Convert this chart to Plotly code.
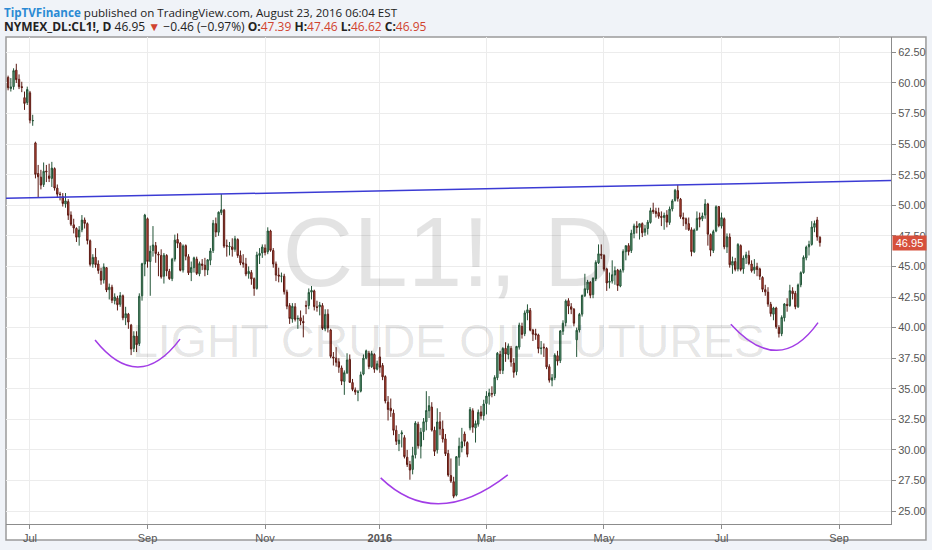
import pandas as pd
import plotly.graph_objects as go

# NYMEX trading calendar: weekdays minus exchange holidays
START = "2015-06-19"
AXIS_END = "2016-09-30"
HOLIDAYS = [
    "2015-07-03", "2015-09-07", "2015-11-26", "2015-12-25", "2016-01-01",
    "2016-01-18", "2016-02-15", "2016-03-25", "2016-05-30", "2016-07-04",
    "2016-09-05",
]

# CL1! daily bars, one line per month (Jun 2015 .. Aug 23 2016)
OPEN = [
    60.45, 59.55, 59.70, 61.05, 60.30, 59.70, 58.80, 58.40,
    59.20, 56.90, 55.10, 52.60, 52.30, 51.70, 52.80, 52.40, 52.20, 53.00, 51.40, 50.90, 50.70, 50.10, 50.30, 49.20, 48.40, 48.10, 47.40, 48.00, 48.80, 48.50,
    47.10, 45.20, 45.75, 45.20, 44.60, 43.90, 44.90, 43.10, 43.30, 42.20, 42.40, 41.90, 42.60, 40.80, 41.10, 40.20, 38.30, 39.30, 38.70, 42.60, 45.20,
    48.90, 45.40, 46.30, 46.70, 46.00, 45.90, 44.20, 45.90, 44.60, 44.00, 45.60, 47.20, 46.90, 44.70, 46.70, 45.80, 44.50, 44.90, 45.60, 44.40, 45.20,
    45.10, 44.70, 45.50, 46.30, 48.50, 47.80, 49.40, 49.60, 46.70, 46.60, 46.60, 46.40, 47.20, 45.90, 45.30, 45.20, 44.40, 44.50, 44.00, 43.20, 45.90, 46.10,
    46.50, 46.20, 47.90, 46.30, 45.20, 44.30, 44.20, 44.20, 42.90, 41.80, 40.70, 41.70, 40.70, 40.80, 40.50, 41.80, 41.80, 42.90, 43.00, 41.70,
    41.70, 41.80, 39.90, 41.10, 39.80, 37.60, 37.50, 37.20, 36.70, 35.60, 36.30, 37.40, 35.50, 34.90, 34.70, 34.80, 36.20, 37.50, 37.90, 36.80, 37.80, 36.60,
    37.60, 36.90, 36.00, 33.90, 33.40, 33.00, 31.60, 30.50, 31.30, 31.00, 29.40, 28.80, 28.40, 29.60, 32.10, 30.30, 31.50, 32.30, 33.20,
    33.50, 31.60, 30.00, 32.30, 31.70, 30.90, 29.70, 27.90, 27.40, 26.30, 29.40, 30.20, 31.30, 30.60, 31.80, 33.20, 31.80, 32.10, 33.10, 32.80,
    33.80, 34.40, 34.60, 34.60, 35.90, 37.80, 36.50, 38.30, 37.80, 38.30, 37.10, 36.40, 38.40, 40.10, 39.50, 41.20, 41.40, 39.80, 39.50, 39.40, 38.30, 38.40,
    38.30, 36.80, 35.70, 35.90, 37.70, 37.30, 39.70, 40.40, 42.20, 41.70, 41.50, 39.00, 39.80, 41.10, 42.60, 43.10, 43.70, 42.70, 44.00, 45.30, 46.00,
    45.90, 44.80, 43.70, 43.80, 44.30, 44.70, 43.40, 44.70, 46.20, 46.70, 46.30, 47.70, 48.30, 48.20, 48.50, 47.80, 48.10, 48.60, 49.60, 49.50, 49.40,
    49.10, 49.00, 49.20, 48.60, 49.70, 50.40, 51.20, 50.50, 49.00, 48.90, 48.50, 48.00, 46.20, 48.00, 49.00, 48.90, 49.20, 50.10, 47.60, 46.30, 47.90, 49.90,
    48.30, 48.90, 46.60, 47.40, 45.10, 45.40, 44.80, 46.70, 44.80, 45.70, 45.90, 45.20, 44.70, 45.00, 44.80, 44.10, 43.10, 42.90, 41.90, 41.10,
    41.60, 40.00, 39.50, 40.80, 41.90, 41.80, 43.00, 42.80, 41.70, 43.50, 44.50, 45.70, 46.60, 46.80, 48.20, 48.80, 47.39,
]
HIGH = [
    60.60, 60.40, 61.20, 61.57, 60.70, 60.10, 59.30, 59.70,
    59.35, 57.40, 55.20, 53.30, 52.90, 53.50, 53.30, 53.40, 53.55, 53.10, 51.70, 51.10, 51.00, 51.00, 50.50, 49.50, 48.90, 48.20, 48.30, 49.20, 49.00, 48.60,
    47.20, 46.00, 46.50, 45.50, 44.90, 45.25, 44.95, 43.60, 43.50, 42.80, 42.60, 42.90, 42.70, 41.70, 41.20, 40.30, 39.70, 39.70, 42.80, 45.30, 49.30,
    49.00, 46.70, 48.30, 47.00, 46.20, 46.40, 46.10, 46.00, 44.80, 45.70, 47.60, 47.70, 47.00, 46.80, 46.80, 46.00, 45.40, 45.80, 45.80, 45.40, 45.60,
    45.70, 45.60, 46.50, 48.80, 49.00, 49.50, 50.92, 49.70, 47.20, 47.00, 47.30, 47.50, 47.30, 46.30, 46.00, 45.70, 45.00, 44.70, 44.10, 46.20, 46.50, 46.80,
    46.80, 48.20, 48.00, 46.50, 45.40, 44.90, 44.50, 44.40, 43.10, 42.00, 42.00, 42.00, 41.00, 41.40, 41.00, 42.20, 43.20, 43.40, 43.10, 42.20,
    42.10, 42.00, 41.50, 41.50, 39.90, 38.00, 38.40, 37.50, 36.90, 36.50, 37.90, 37.80, 35.80, 35.10, 34.90, 36.40, 37.80, 38.20, 38.10, 38.10, 37.90, 37.30,
    38.40, 37.10, 36.10, 34.40, 34.20, 33.30, 32.00, 31.30, 31.60, 31.20, 30.00, 29.10, 30.25, 32.35, 32.30, 31.80, 32.60, 34.80, 34.40,
    33.90, 31.90, 33.40, 33.10, 32.40, 31.30, 30.00, 29.30, 27.80, 29.50, 31.00, 31.80, 31.50, 30.70, 33.50, 33.40, 32.40, 33.30, 33.60, 34.10,
    34.80, 35.00, 35.20, 36.10, 38.00, 38.10, 38.40, 38.80, 38.70, 38.50, 37.50, 38.50, 40.40, 40.40, 41.40, 41.90, 41.60, 39.90, 39.90, 39.50, 38.90, 38.70,
    38.40, 37.00, 36.20, 37.90, 38.10, 39.80, 40.60, 42.30, 42.40, 42.00, 41.60, 40.00, 41.20, 42.70, 44.40, 43.90, 43.80, 44.10, 45.50, 46.80, 46.80,
    46.00, 44.90, 44.50, 45.50, 45.00, 44.80, 44.80, 46.40, 46.70, 46.90, 48.00, 48.50, 48.70, 48.50, 48.60, 48.40, 48.80, 49.80, 50.21, 49.80, 49.80,
    49.50, 49.40, 49.60, 49.90, 50.50, 51.34, 51.67, 50.60, 49.40, 49.00, 49.00, 48.20, 48.10, 49.50, 49.40, 49.40, 50.50, 50.20, 47.70, 48.00, 50.00, 49.90,
    49.40, 49.00, 47.70, 47.70, 45.80, 45.70, 46.90, 46.80, 45.90, 46.20, 46.30, 45.50, 45.60, 45.30, 44.90, 44.20, 43.50, 43.30, 42.10, 41.70,
    41.70, 40.20, 41.00, 42.00, 42.40, 43.50, 43.30, 43.00, 43.60, 44.60, 45.90, 46.70, 47.10, 48.70, 48.75, 49.05, 47.46,
]
LOW = [
    59.40, 59.30, 59.45, 60.00, 59.50, 59.25, 57.80, 58.20,
    56.70, 56.50, 52.20, 50.60, 51.30, 51.50, 51.90, 51.90, 51.50, 51.20, 50.60, 50.40, 49.90, 49.80, 48.80, 48.30, 47.70, 47.00, 46.70, 47.80, 48.10, 46.80,
    45.00, 44.90, 44.90, 44.40, 43.50, 43.60, 42.90, 42.30, 42.00, 41.90, 41.40, 41.70, 40.60, 40.20, 39.90, 37.75, 38.00, 38.00, 38.50, 42.20, 44.20,
    44.90, 42.60, 45.80, 45.30, 44.20, 44.00, 43.60, 44.20, 43.90, 43.80, 45.40, 46.50, 44.60, 44.50, 45.50, 44.30, 43.80, 44.50, 44.30, 44.20, 44.70,
    44.20, 44.30, 45.10, 46.10, 47.40, 47.50, 49.20, 46.50, 45.80, 45.90, 45.80, 46.20, 45.70, 45.10, 44.90, 44.20, 44.00, 43.50, 42.60, 43.10, 45.20, 45.70,
    45.90, 46.00, 46.20, 44.90, 43.80, 43.70, 43.70, 42.70, 41.50, 40.30, 40.40, 40.50, 39.90, 40.20, 39.20, 41.10, 41.50, 42.30, 41.40, 41.30,
    41.00, 39.80, 39.70, 39.60, 37.50, 36.90, 36.80, 36.30, 35.30, 34.50, 36.20, 35.50, 34.80, 34.50, 33.98, 34.70, 36.10, 37.40, 36.60, 36.70, 36.30, 36.50,
    36.30, 35.70, 33.80, 32.40, 32.70, 31.20, 30.40, 29.90, 30.20, 29.30, 28.60, 27.56, 28.00, 29.30, 30.10, 29.30, 30.80, 31.60, 32.60,
    31.50, 29.50, 29.70, 31.20, 30.60, 29.50, 27.80, 27.30, 26.05, 26.20, 28.70, 29.80, 30.30, 29.40, 31.60, 31.40, 30.60, 31.90, 32.50, 32.40,
    32.90, 33.70, 34.30, 34.40, 35.70, 36.20, 36.20, 37.20, 37.40, 36.80, 35.90, 36.10, 38.20, 39.10, 39.30, 40.60, 39.70, 38.90, 39.00, 37.90, 37.80, 37.60,
    36.60, 35.50, 35.20, 35.70, 36.90, 37.10, 39.40, 40.10, 41.10, 41.10, 40.10, 37.60, 39.60, 40.90, 42.50, 42.80, 42.40, 42.40, 43.80, 45.20, 45.60,
    44.60, 43.00, 43.20, 43.60, 43.50, 43.00, 43.30, 44.50, 45.50, 45.90, 46.10, 47.30, 47.70, 47.20, 47.40, 47.50, 47.60, 48.50, 49.30, 49.00, 48.90,
    48.30, 48.00, 48.20, 48.40, 49.50, 50.30, 50.30, 48.90, 48.30, 48.00, 47.90, 45.83, 46.10, 47.90, 48.20, 48.70, 48.90, 46.70, 45.83, 46.10, 47.80, 48.20,
    48.10, 46.40, 46.10, 44.90, 44.40, 44.60, 44.60, 44.60, 44.40, 45.20, 45.10, 44.50, 44.40, 44.20, 43.90, 42.90, 42.60, 41.70, 40.90, 40.60,
    39.90, 39.19, 39.30, 40.50, 41.30, 41.70, 42.30, 41.50, 41.60, 43.30, 44.40, 45.50, 45.90, 46.70, 47.80, 47.10, 46.62,
]
CLOSE = [
    59.61, 59.68, 61.01, 60.27, 59.70, 59.63, 58.33, 59.47,
    56.96, 56.93, 52.53, 52.33, 51.65, 52.78, 52.74, 52.20, 53.04, 51.41, 50.91, 50.89, 50.15, 50.36, 49.19, 48.45, 48.14, 47.39, 47.98, 48.79, 48.52, 47.12,
    45.17, 45.74, 45.15, 44.66, 43.87, 44.96, 43.08, 43.30, 42.23, 42.50, 41.87, 42.62, 40.80, 41.14, 40.45, 38.24, 39.31, 38.60, 42.56, 45.22, 49.20,
    45.41, 46.25, 46.75, 46.05, 45.94, 44.15, 45.92, 44.63, 44.00, 45.59, 47.15, 46.90, 44.68, 46.68, 45.83, 44.48, 44.91, 45.70, 44.43, 45.23, 45.09,
    44.74, 45.54, 46.26, 48.53, 47.81, 49.43, 49.63, 46.66, 46.66, 46.64, 46.38, 47.26, 45.89, 45.29, 45.20, 44.38, 44.60, 43.98, 43.20, 45.94, 46.06, 46.59,
    46.14, 47.90, 46.32, 45.20, 44.29, 44.21, 44.21, 42.93, 41.75, 40.74, 41.74, 40.67, 40.75, 40.54, 40.39, 41.75, 42.87, 43.04, 41.71, 41.65,
    41.85, 39.94, 41.08, 39.97, 37.65, 37.51, 37.16, 36.76, 35.62, 36.31, 37.35, 35.52, 34.95, 34.73, 34.74, 36.14, 37.50, 38.10, 36.81, 37.87, 36.60, 37.04,
    36.76, 35.97, 34.00, 33.30, 33.20, 31.60, 30.70, 30.80, 31.40, 29.45, 28.80, 28.35, 29.53, 32.19, 30.34, 31.45, 32.30, 33.22, 33.62,
    31.62, 29.88, 32.28, 31.72, 30.89, 29.69, 27.94, 27.45, 26.21, 29.44, 30.30, 30.66, 30.70, 29.64, 33.30, 31.87, 32.15, 33.07, 32.78, 33.75,
    34.40, 34.66, 34.57, 35.92, 37.90, 36.50, 38.29, 37.84, 38.50, 37.18, 36.34, 38.46, 40.20, 39.44, 41.20, 41.45, 39.79, 39.46, 39.39, 38.28, 38.32, 38.34,
    36.79, 35.70, 35.89, 37.75, 37.26, 39.72, 40.36, 42.17, 41.76, 41.50, 40.36, 39.78, 41.08, 42.63, 43.18, 43.73, 42.64, 44.04, 45.33, 46.03, 45.92,
    44.78, 43.65, 43.78, 44.32, 44.66, 43.44, 44.66, 46.23, 46.70, 46.21, 47.72, 48.31, 48.19, 48.49, 47.75, 48.08, 48.62, 49.56, 49.48, 49.33, 49.10,
    49.01, 49.17, 48.62, 49.69, 50.36, 51.23, 50.56, 49.07, 48.88, 48.49, 48.01, 46.21, 47.98, 48.93, 48.85, 49.13, 50.11, 47.64, 46.33, 47.85, 49.88, 48.33,
    48.99, 46.60, 47.43, 45.14, 45.41, 44.76, 46.80, 44.75, 45.68, 45.95, 45.24, 44.65, 44.94, 44.75, 44.19, 43.13, 42.92, 41.92, 41.14, 41.60,
    40.06, 39.51, 40.83, 41.93, 41.80, 43.02, 42.77, 41.71, 43.49, 44.49, 45.74, 46.58, 46.79, 48.22, 48.52, 47.41, 46.95,
]

TICK_MONTHS = ["2015-07", "2015-09", "2015-11", "2016-01", "2016-03", "2016-05", "2016-07", "2016-09"]
TICK_TEXT = ["Jul", "Sep", "Nov", "<b>2016</b>", "Mar", "May", "Jul", "Sep"]
PRICE_TICKS = [25.0, 27.5, 30.0, 32.5, 35.0, 37.5, 40.0, 42.5, 45.0, 47.5, 50.0, 52.5, 55.0, 57.5, 60.0, 62.5]
LAST_PRICE = 46.95

# drawings on the chart: resistance line through two highs, arcs as (bar, price) triples
TREND_ANCHORS = [("2015-10-09", 50.92), ("2016-06-09", 51.67)]
ARCS = [
    [(31.8, 38.98), (47.5, 36.78), (62.9, 39.06)],
    [(136.3, 27.71), (158.0, 25.59), (182.8, 27.95)],
    [(264.4, 40.28), (281.2, 38.14), (296.3, 40.41)],
]

X_RANGE = [-0.77, 323.0]
Y_RANGE = [23.94, 63.76]

RED = "#d0432f"
FONT = "Liberation Sans"

holidays = pd.to_datetime(HOLIDAYS)
sessions = [d for d in pd.bdate_range(START, AXIS_END) if d not in holidays]
dates = sessions[: len(CLOSE)]
bar_x = list(range(len(dates)))
tick_vals = [
    next(i for i, d in enumerate(sessions) if d.strftime("%Y-%m") == m) for m in TICK_MONTHS
]
pos = {d.strftime("%Y-%m-%d"): i for i, d in enumerate(sessions)}

fig = go.Figure()

# symbol watermark (drawn first so the candles sit above it)
mid_x = (X_RANGE[0] + X_RANGE[1]) / 2
fig.add_trace(
    go.Scatter(
        x=[mid_x, mid_x],
        y=[Y_RANGE[0] + 0.538 * (Y_RANGE[1] - Y_RANGE[0]),
           Y_RANGE[0] + 0.366 * (Y_RANGE[1] - Y_RANGE[0])],
        mode="text",
        text=["CL1!, D", "LIGHT CRUDE OIL FUTURES"],
        textposition="middle center",
        textfont={"size": [98, 46.5], "color": "rgba(0,0,0,0.11)", "family": FONT},
        hoverinfo="skip",
        showlegend=False,
    )
)

fig.add_trace(
    go.Candlestick(
        x=bar_x,
        open=OPEN,
        high=HIGH,
        low=LOW,
        close=CLOSE,
        increasing={"line": {"color": "#225437", "width": 1}, "fillcolor": "#6ba583"},
        decreasing={"line": {"color": "#5b1a13", "width": 1}, "fillcolor": "#d75442"},
        whiskerwidth=0,
        hoverinfo="skip",
        showlegend=False,
    )
)

# resistance line extended across the whole pane
(d0, p0), (d1, p1) = TREND_ANCHORS
slope = (p1 - p0) / (pos[d1] - pos[d0])
fig.add_shape(
    type="line",
    xref="x", yref="y",
    x0=X_RANGE[0], y0=p0 + slope * (X_RANGE[0] - pos[d0]),
    x1=X_RANGE[1], y1=p0 + slope * (X_RANGE[1] - pos[d0]),
    line={"color": "#3b3bd4", "width": 1.5},
)

for (ax, ay), (mx, my), (bx, by) in ARCS:
    cx = 2 * mx - (ax + bx) / 2
    cy = 2 * my - (ay + by) / 2
    fig.add_shape(
        type="path",
        xref="x", yref="y",
        path=f"M {ax},{ay} Q {cx},{cy} {bx},{by}",
        line={"color": "#a23de6", "width": 1.5},
    )

# white chart frame on the grey page
fig.add_shape(
    type="rect", xref="paper", yref="paper",
    x0=0, x1=1.0395, y0=-0.0327, y1=1.0,
    fillcolor="white", line={"color": "#9a9a9a", "width": 1.5}, layer="below",
)

header1 = (
    "<span style='color:#2a8ad4'><b>TipTVFinance</b></span>"
    " published on TradingView.com, August 23, 2016 06:04 EST"
)
header2 = (
    f"<b>NYMEX_DL:CL1!, D</b> 46.95 <span style='color:{RED}'>▼</span> −0.46 (−0.97%) "
    f"<b>O:</b><span style='color:{RED}'>47.39</span> "
    f"<b>H:</b><span style='color:{RED}'>47.46</span> "
    f"<b>L:</b><span style='color:{RED}'>46.62</span> "
    f"<b>C:</b><span style='color:{RED}'>46.95</span>"
)
for text, ypix, size in ((header1, 12, 11.6), (header2, 26, 12)):
    fig.add_annotation(
        text=text, xref="paper", yref="paper",
        x=-0.004, y=(527 - ypix) / 490, xanchor="left", yanchor="middle",
        showarrow=False, font={"family": "Open Sans", "size": size, "color": "#222"},
    )

fig.add_annotation(
    text=f"{LAST_PRICE:.2f}", xref="paper", yref="y",
    x=1.0, y=LAST_PRICE, xanchor="left", yanchor="middle", xshift=1,
    showarrow=False, bgcolor="#d6503c", borderpad=1, width=31,
    font={"family": FONT, "size": 11, "color": "white"},
)

fig.update_layout(
    width=932,
    height=550,
    margin={"l": 6, "r": 41, "t": 37, "b": 23},
    paper_bgcolor="#f0f3f8",
    plot_bgcolor="white",
    hovermode=False,
    showlegend=False,
)
fig.update_xaxes(
    range=X_RANGE,
    tickvals=tick_vals,
    ticktext=TICK_TEXT,
    rangeslider_visible=False,
    showgrid=True, gridcolor="#ececec", gridwidth=1,
    showline=True, linecolor="#8c8c8c", linewidth=1,
    ticks="outside", ticklen=4, tickcolor="#8c8c8c",
    zeroline=False,
    tickfont={"family": FONT, "size": 11, "color": "#555"},
)
fig.update_yaxes(
    range=Y_RANGE,
    side="right",
    tickvals=PRICE_TICKS,
    tickformat=".2f",
    showgrid=True, gridcolor="#ececec", gridwidth=1,
    showline=True, linecolor="#8c8c8c", linewidth=1,
    ticks="outside", ticklen=4, tickcolor="#8c8c8c",
    zeroline=False,
    tickfont={"family": FONT, "size": 11, "color": "#555"},
)

# the page's default body margin would push the 932x550 figure off-screen
fig.write_html(
    "out.html",
    config={"displayModeBar": False},
    post_script="document.body.style.margin='0';",
)
